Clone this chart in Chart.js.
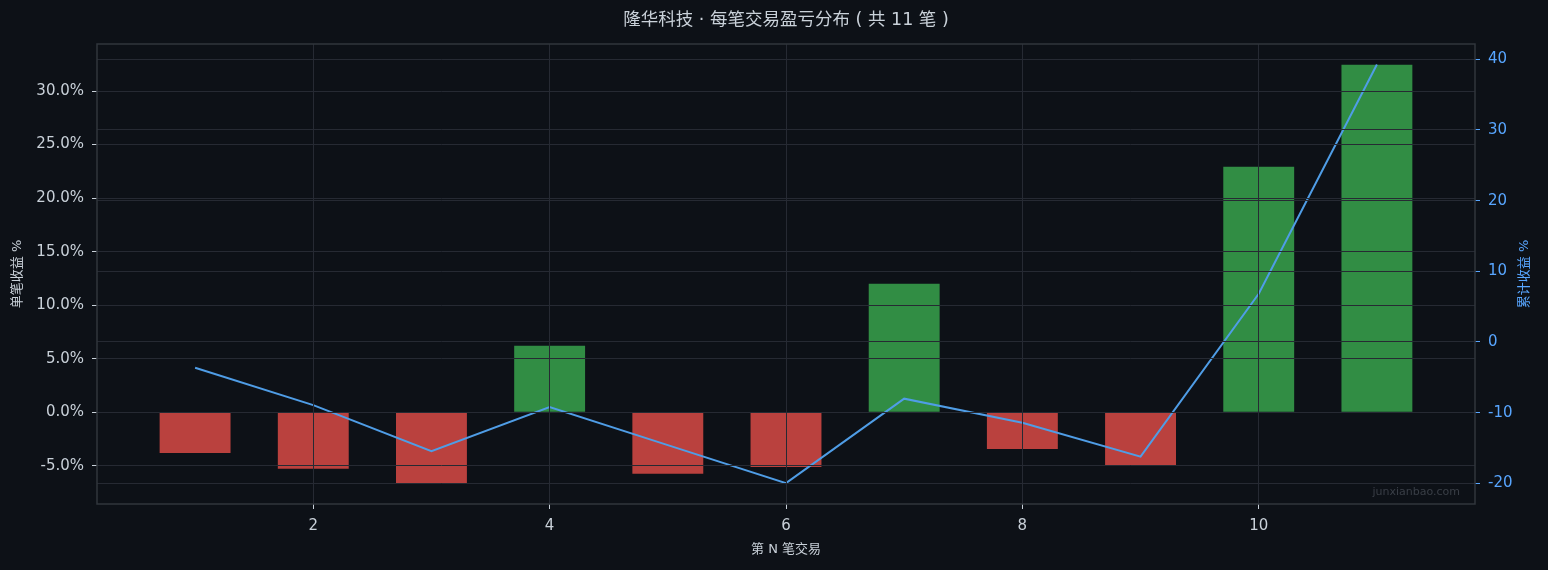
<!DOCTYPE html>
<html lang="zh">
<head>
    <meta charset="UTF-8">
    <title>隆华科技 · 每笔交易盈亏分布</title>
    <script src="https://cdn.jsdelivr.net/npm/chart.js"></script>
    <style>
        body {
            margin: 0;
            background: #0d1117;
        }
        canvas {
            display: block;
        }
    </style>
</head>
<body>
    <canvas id="tradeChart" width="1548" height="570"></canvas>
    <script>
        // trade index, single trade return (%), cumulative return (%)
        const trades = [1, 2, 3, 4, 5, 6, 7, 8, 9, 10, 11];
        const tradeReturns = [-3.80, -5.27, -6.61, 6.20, -5.74, -5.11, 11.99, -3.43, -4.93, 22.93, 32.46];
        const cumReturns = [-3.64, -8.93, -15.44, -9.21, -14.6, -19.97, -8.02, -11.42, -16.23, 6.83, 39.28];

        // tick labels
        const xTicks = [2, 4, 6, 8, 10];
        const leftTicks = [-5, 0, 5, 10, 15, 20, 25, 30];
        const rightTicks = [-20, -10, 0, 10, 20, 30, 40];

        const bg = '#0d1117';
        const gridColor = '#262a33';
        const frameColor = '#30363d';
        const textColor = '#c9d1d9';
        const blue = '#58a6ff';
        const lineBlue = '#4f9de6';
        const font = '"DejaVu Sans", "Noto Sans CJK SC", sans-serif';

        const setTicks = list => scale => {
            scale.ticks = list.map(v => ({ value: v }));
        };

        // background, frame, right axis title (bottom-to-top) and watermark
        const decor = {
            id: 'decor',
            beforeDraw(chart) {
                const c = chart.ctx;
                c.save();
                c.fillStyle = bg;
                c.fillRect(0, 0, chart.width, chart.height);
                c.restore();
            },
            afterDraw(chart) {
                const c = chart.ctx;
                const a = chart.chartArea;
                c.save();
                c.strokeStyle = frameColor;
                c.lineWidth = 1.5;
                c.strokeRect(a.left, a.top, a.right - a.left, a.bottom - a.top);

                c.fillStyle = '#3a3f47';
                c.font = '11px ' + font;
                c.textAlign = 'right';
                c.textBaseline = 'middle';
                c.fillText('junxianbao.com', a.right - 15, a.bottom - 12);

                c.translate(1525, (a.top + a.bottom) / 2);
                c.rotate(-Math.PI / 2);
                c.fillStyle = blue;
                c.font = '13px ' + font;
                c.textAlign = 'center';
                c.fillText('累计收益 %', 0, 0);
                c.restore();
            }
        };

        const ctx = document.getElementById('tradeChart').getContext('2d');

        new Chart(ctx, {
            data: {
                datasets: [
                    {
                        type: 'line',
                        label: '累计收益',
                        data: trades.map((t, i) => ({ x: t, y: cumReturns[i] })),
                        yAxisID: 'y1',
                        borderColor: lineBlue,
                        borderWidth: 2,
                        pointRadius: 0,
                        tension: 0
                    },
                    {
                        type: 'bar',
                        label: '单笔收益',
                        data: trades.map((t, i) => ({ x: t, y: tradeReturns[i] })),
                        yAxisID: 'y',
                        backgroundColor: tradeReturns.map(v => v >= 0 ? '#318d44' : '#ba413e'),
                        barPercentage: 0.6,
                        categoryPercentage: 1.0
                    }
                ]
            },
            options: {
                responsive: false,
                animation: false,
                layout: { padding: 0 },
                plugins: {
                    legend: { display: false },
                    tooltip: { enabled: false },
                    title: {
                        display: true,
                        fullSize: false,
                        text: '隆华科技 · 每笔交易盈亏分布 ( 共 11 笔 )',
                        color: textColor,
                        font: { family: font, size: 17.5, weight: 'normal' },
                        padding: { top: 10, bottom: 13 }
                    }
                },
                scales: {
                    x: {
                        type: 'linear',
                        min: 0.17,
                        max: 11.83,
                        offset: false,
                        z: 1,
                        afterBuildTicks: setTicks(xTicks),
                        afterFit: s => { s.height = 66; },
                        grid: { offset: false, z: 1, color: gridColor, tickColor: textColor, tickLength: 5 },
                        border: { display: false },
                        ticks: { color: textColor, font: { family: font, size: 15 }, padding: 8 },
                        title: {
                            display: true,
                            text: '第 N 笔交易',
                            color: textColor,
                            font: { family: font, size: 13 },
                            padding: { top: 4, bottom: 13 }
                        }
                    },
                    y: {
                        position: 'left',
                        min: -8.57,
                        max: 34.39,
                        z: 1,
                        afterBuildTicks: setTicks(leftTicks),
                        afterFit: s => { s.width = 97; },
                        grid: { z: 1, color: gridColor, tickColor: textColor, tickLength: 5 },
                        border: { display: false },
                        ticks: {
                            color: textColor,
                            font: { family: font, size: 15 },
                            padding: 8,
                            callback: v => v.toFixed(1) + '%'
                        },
                        title: {
                            display: true,
                            text: '单笔收益 %',
                            color: textColor,
                            font: { family: font, size: 13 },
                            padding: { top: 10, bottom: 4 }
                        }
                    },
                    y1: {
                        position: 'right',
                        min: -22.93,
                        max: 42.17,
                        z: 1,
                        afterBuildTicks: setTicks(rightTicks),
                        afterFit: s => { s.width = 73; },
                        grid: { z: 1, color: gridColor, tickColor: blue, tickLength: 5 },
                        border: { display: false },
                        ticks: { color: blue, font: { family: font, size: 15 }, padding: 8 }
                    }
                }
            },
            plugins: [decor]
        });
    </script>
</body>
</html>
